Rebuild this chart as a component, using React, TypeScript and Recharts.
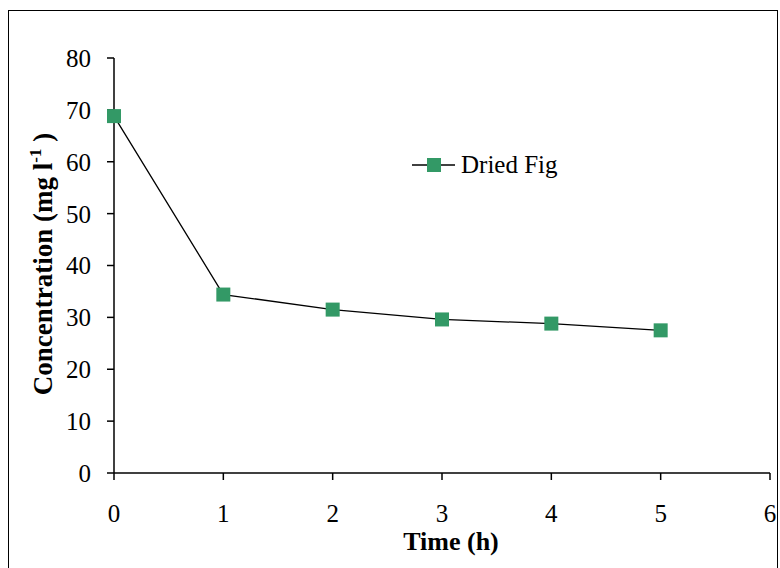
import React from 'react';
import { LineChart, Line, XAxis, YAxis } from 'recharts';

const hours = [0, 1, 2, 3, 4, 5];
const driedFig = [68.8, 34.4, 31.5, 29.6, 28.8, 27.5];
const xTicks = [0, 1, 2, 3, 4, 5, 6];
const yTicks = [0, 10, 20, 30, 40, 50, 60, 70, 80];

const data = hours.map((h, i) => ({ hour: h, fig: driedFig[i] }));

const FONT = '"Liberation Serif", "Times New Roman", serif';
const GREEN = '#339966';

function SquareDot(props: any) {
  const { cx, cy } = props;
  if (cx == null || cy == null) return null;
  return <rect x={cx - 7} y={cy - 7} width={14} height={14} fill={GREEN} />;
}

function FigLegend() {
  return (
    <div
      style={{
        position: 'absolute',
        left: 411,
        top: 151,
        display: 'flex',
        alignItems: 'center',
        fontFamily: FONT,
        fontSize: 25,
        color: '#000',
      }}
    >
      <svg width={46} height={20}>
        <line x1={1} y1={10} x2={44} y2={10} stroke="#000" strokeWidth={1.5} />
        <rect x={16} y={3} width={14} height={14} fill={GREEN} />
      </svg>
      <span style={{ marginLeft: 4 }}>Dried Fig</span>
    </div>
  );
}

export default function App() {
  return (
    <div style={{ position: 'relative', width: 780, height: 568, background: '#fff', overflow: 'hidden' }}>
      <style>{`body{margin:0}`}</style>
      <div
        style={{
          position: 'absolute',
          left: 8,
          top: 10,
          width: 770,
          height: 570,
          border: '1.5px solid #000',
          boxSizing: 'border-box',
        }}
      />
      <LineChart width={780} height={568} data={data} margin={{ top: 58, right: 10, bottom: 65, left: 54 }}>
        <XAxis
          dataKey="hour"
          type="number"
          domain={[0, 6]}
          ticks={xTicks}
          height={30}
          tickSize={7}
          tickMargin={24}
          stroke="#000"
          strokeWidth={1.5}
          tick={{ fill: '#000', fontSize: 25, fontFamily: FONT }}
          label={{
            content: () => (
              <text x={451} y={550} textAnchor="middle" fontFamily={FONT} fontSize={26} fontWeight="bold" fill="#000">
                Time (h)
              </text>
            ),
          }}
        />
        <YAxis
          type="number"
          domain={[0, 80]}
          ticks={yTicks}
          width={60}
          tickSize={7}
          tickMargin={16}
          stroke="#000"
          strokeWidth={1.5}
          tick={{ fill: '#000', fontSize: 25, fontFamily: FONT }}
          label={{
            content: () => (
              <text
                x={0}
                y={0}
                transform="translate(52, 264) rotate(-90)"
                textAnchor="middle"
                fontFamily={FONT}
                fontSize={27}
                fontWeight="bold"
                fill="#000"
              >
                Concentration (mg l
                <tspan dy={-11} fontSize={17}>-1</tspan>
                <tspan dy={11}> )</tspan>
              </text>
            ),
          }}
        />
        <Line
          dataKey="fig"
          name="Dried Fig"
          stroke="#000"
          strokeWidth={1.3}
          dot={<SquareDot />}
          activeDot={false}
          isAnimationActive={false}
        />
      </LineChart>
      <FigLegend />
    </div>
  );
}
